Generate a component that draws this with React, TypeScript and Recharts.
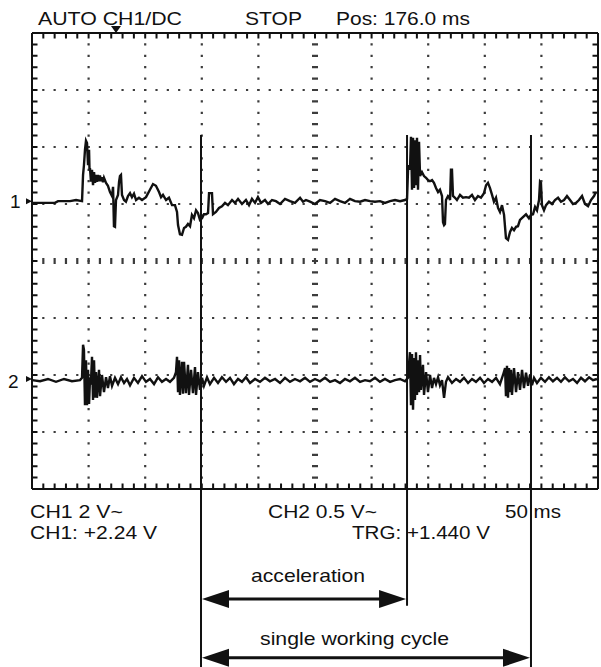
import { Line, LineChart, ReferenceDot, ReferenceLine, XAxis, YAxis } from "recharts";

// time in ms (50 ms/div), level in screen divisions (centre line = 0)
const ch1: [number, number][] = [
  [0, 1.02], [20.3, 1.02], [23, 1.05], [33.6, 1.05], [38.9, 1.07], [44.2, 1.05], [45.1, 1.51], [45.9, 1.68],
  [46.8, 1.95], [47.7, 2.11], [48.6, 2.07], [49.5, 1.68], [50.4, 1.95], [50.8, 1.6], [51.2, 1.63], [52.1, 1.39],
  [53, 1.6], [53.9, 1.33], [54.8, 1.56], [55.7, 1.37], [56.5, 1.51], [57.4, 1.39], [58.3, 1.51], [59.2, 1.4],
  [60, 1.5], [61, 1.4], [61.8, 1.47], [62.7, 1.38], [63.6, 1.46], [65.4, 1.37], [67.1, 1.32], [68.9, 1.21],
  [70.7, 1.14], [71.6, 1.3], [72.4, 0.61], [73.3, 0.6], [74.2, 1.07], [76, 1.16], [76.9, 1.39], [77.7, 1.49],
  [78.6, 1.51], [79.5, 1.16], [81.3, 1.07], [83, 1.04], [84.8, 1.14], [86.6, 1.19], [88.3, 1.12], [90.1, 1.18],
  [91.9, 1.07], [94.5, 1.11], [97.2, 1.07], [100.7, 1.12], [104.2, 1.25], [106.9, 1.35], [109.5, 1.32], [112.2, 1.21],
  [114, 1.12], [115.7, 1.16], [118.4, 1.07], [121, 1.11], [123.7, 0.98], [126.3, 0.98], [128.1, 0.86], [129, 0.63],
  [130.7, 0.47], [132.5, 0.46], [134.3, 0.58], [136, 0.6], [137.8, 0.65], [139.6, 0.61], [141.3, 0.81], [143.1, 0.75],
  [144.9, 0.89], [146.6, 0.84], [148.4, 0.72], [150.2, 0.75], [151.9, 0.82], [153.7, 0.82], [155.5, 0.84], [156.4, 1.19],
  [159, 1.19], [159.9, 0.82], [162.5, 0.86], [165.2, 0.93], [167.8, 0.96], [170.5, 1.02], [173.1, 0.98], [176.7, 1.07],
  [179.3, 1.02], [182, 1.09], [185.5, 1.0], [189, 1.07], [191.7, 0.98], [194.3, 1.09], [197, 1.02], [199.6, 1.12],
  [202.3, 1.02], [205.8, 1.07], [208.5, 1.0], [212, 1.07], [215.5, 1.05], [219.1, 1.0], [223.5, 1.09], [227.9, 1.05],
  [232.3, 1.02], [236.8, 1.11], [239.4, 1.04], [242, 1.07], [245.6, 1.04], [250, 1.0], [254.4, 1.07], [258.8, 1.05],
  [263.3, 1.02], [267.7, 1.09], [272.1, 1.05], [276.5, 1.02], [280.9, 1.09], [285.3, 1.05], [289.8, 1.04], [294.2, 1.07],
  [298.6, 1.05], [303, 1.04], [307.4, 1.05], [311.8, 1.02], [316.3, 1.05], [320.7, 1.07], [325.1, 1.05], [329.5, 1.07],
  [331.3, 1.09], [332.2, 1.6], [333, 1.68], [333.9, 1.6], [334.8, 2.18], [335.7, 1.25], [336.6, 2.16], [337.5, 1.28],
  [338.3, 2.12], [339.2, 1.33], [340.1, 2.16], [341, 1.25], [341.9, 2.09], [342.8, 1.49], [344.5, 1.56], [346.3, 1.49],
  [348.1, 1.46], [349.8, 1.42], [351.6, 1.4], [353.4, 1.42], [355.1, 1.37], [356.9, 1.28], [358.7, 1.21], [360.4, 1.25],
  [362.2, 1.14], [363.1, 0.68], [364, 0.63], [364.8, 0.65], [365.7, 1.07], [367.5, 1.14], [368.4, 1.12], [369.3, 1.07],
  [370.1, 1.6], [371, 1.6], [371.9, 1.14], [373.7, 1.11], [375.4, 1.07], [378.1, 1.16], [380.7, 1.11], [383.4, 1.12],
  [386, 1.11], [388.7, 1.16], [391.3, 1.07], [394, 1.14], [396.6, 1.11], [399.3, 1.19], [401.1, 1.33], [402.8, 1.37],
  [404.6, 1.28], [406.4, 1.16], [408.1, 1.04], [409.9, 1.11], [411.7, 0.93], [413.4, 0.86], [415.2, 0.98], [417, 0.81],
  [418.7, 0.4], [420.5, 0.37], [422.3, 0.51], [424, 0.58], [425.8, 0.54], [427.6, 0.6], [429.3, 0.61], [431.1, 0.72],
  [433.7, 0.77], [436.4, 0.82], [439, 0.75], [440.8, 0.81], [442.6, 0.82], [444.4, 0.95], [446.1, 0.89], [447.9, 1.07],
  [448.8, 1.39], [449.6, 1.37], [450.5, 0.98], [452.3, 0.89], [454.1, 0.98], [456.7, 1.04], [459.4, 1.0], [462, 1.07],
  [464.7, 1.11], [467.3, 1.04], [470, 1.07], [472.6, 1.14], [475.3, 1.07], [477.9, 1.0], [480.6, 1.02], [483.2, 1.07],
  [485.9, 1.14], [488.5, 1.0], [491.2, 0.96], [493.8, 1.07], [496.5, 1.14], [498.2, 1.21]
];

const ch2: [number, number][] = [
  [0, -2.09], [7.1, -2.11], [14.1, -2.07], [21.2, -2.12], [28.3, -2.07], [35.3, -2.11], [42.4, -2.09], [44.2, -2.05],
  [45.1, -1.47], [45.9, -1.56], [46.8, -2.53], [47.7, -1.74], [48.6, -2.53], [49.5, -1.91], [50.4, -2.51], [51.2, -2.09],
  [52.1, -2.12], [53, -1.68], [53.9, -2.44], [54.8, -1.74], [55.7, -2.4], [56.5, -1.95], [57.4, -2.4], [59.2, -1.91],
  [60.1, -2.37], [61.8, -2.0], [63.6, -2.3], [65.4, -2.04], [67.1, -2.23], [68.9, -2.02], [70.7, -2.19], [73.3, -2.05],
  [76, -2.16], [78.6, -2.04], [81.3, -2.14], [83.9, -2.07], [86.6, -2.18], [90.1, -2.05], [93.6, -2.14], [97.2, -2.02],
  [100.7, -2.12], [104.2, -2.07], [107.8, -2.16], [111.3, -2.04], [114.8, -2.12], [118.4, -2.07], [121.9, -2.12], [125.4, -2.05],
  [127.2, -1.95], [128.1, -1.68], [129, -2.3], [129.9, -1.74], [130.7, -2.35], [132.5, -1.77], [133.4, -2.33], [134.3, -1.77],
  [136, -2.32], [137.8, -1.82], [138.7, -2.35], [140.5, -1.91], [142.2, -2.32], [144, -1.86], [144.9, -2.35], [146.6, -1.95],
  [148.4, -2.26], [150.2, -2.05], [151.9, -2.19], [154.6, -2.04], [157.2, -2.16], [160.8, -2.05], [164.3, -2.14], [167.8, -2.04],
  [171.4, -2.12], [174.9, -2.05], [178.4, -2.16], [182, -2.07], [185.5, -2.12], [189, -2.04], [192.6, -2.14], [197, -2.07],
  [201.4, -2.12], [205.8, -2.05], [210.2, -2.11], [214.7, -2.07], [219.1, -2.14], [223.5, -2.05], [227.9, -2.12], [232.3, -2.07],
  [236.8, -2.11], [241.2, -2.05], [245.6, -2.12], [250, -2.07], [254.4, -2.11], [258.8, -2.05], [263.3, -2.12], [267.7, -2.09],
  [272.1, -2.14], [276.5, -2.07], [280.9, -2.11], [285.3, -2.05], [289.8, -2.12], [294.2, -2.09], [298.6, -2.11], [303, -2.05],
  [307.4, -2.12], [311.8, -2.07], [316.3, -2.12], [320.7, -2.09], [325.1, -2.07], [329.5, -2.11], [332.2, -2.05], [333, -1.82],
  [333.9, -1.6], [334.8, -2.53], [335.7, -1.63], [336.6, -2.61], [337.5, -1.7], [338.3, -2.44], [339.2, -1.6], [340.1, -2.35],
  [341, -1.74], [341.9, -2.3], [342.8, -1.65], [343.6, -2.26], [345.4, -1.82], [346.3, -2.35], [348.1, -1.95], [349.8, -2.3],
  [351.6, -2.0], [353.4, -2.23], [355.1, -2.05], [356.9, -2.16], [358.7, -2.04], [360.4, -2.18], [362.2, -2.09], [364, -2.4],
  [365.7, -2.12], [367.5, -2.04], [371, -2.14], [374.6, -2.07], [378.1, -2.12], [381.6, -2.05], [385.2, -2.14], [388.7, -2.07],
  [392.2, -2.12], [395.8, -2.05], [399.3, -2.14], [402.8, -2.07], [406.4, -2.12], [409.9, -2.05], [413.4, -2.16], [416.1, -2.0],
  [417.9, -1.88], [418.7, -2.37], [419.6, -1.84], [420.5, -2.4], [421.4, -1.88], [422.3, -2.3], [423.1, -1.91], [424, -2.35],
  [425.8, -1.88], [427.6, -2.3], [429.3, -1.95], [431.1, -2.26], [432.9, -1.91], [434.6, -2.23], [436.4, -1.96], [438.2, -2.19],
  [439.9, -2.0], [441.7, -2.18], [443.5, -2.05], [446.1, -2.14], [449.6, -2.05], [453.2, -2.12], [456.7, -2.04], [460.2, -2.11],
  [463.8, -2.05], [467.3, -2.12], [470.8, -2.04], [474.4, -2.11], [477.9, -2.07], [481.5, -2.14], [485, -2.05], [488.5, -2.11],
  [492.1, -2.04], [495.6, -2.09], [499.1, -2.07]
];

const timeDivs = [0, 50, 100, 150, 200, 250, 300, 350, 400, 450, 500];
const levelDivs = [-4, -3, -2, -1, 0, 1, 2, 3, 4];
const channelOffsets = [1.05, -2.07];

const triggerMs = 74.2;
const cycleStartMs = 149.3;
const accelEndMs = 331.3;
const cycleEndMs = 440.8;
const cursorTop = 2.21;
const accelArrowLevel = -5.93;
const cycleArrowLevel = -6.96;

const INK = "#111";
const DOTS = "#3c3c3c";
const FONT = "'Liberation Sans', Arial, sans-serif";

const ch1Data = ch1.map(([t, v]) => ({ t, v }));
const ch2Data = ch2.map(([t, v]) => ({ t, v }));

function ArrowShape(props: any) {
  const { x1, y1, x2 } = props;
  const left = Math.min(x1, x2);
  const right = Math.max(x1, x2);
  const y = y1;
  const head = 28;
  const half = 9;
  return (
    <g>
      <line x1={left + head - 2} y1={y} x2={right - head + 2} y2={y} stroke={INK} strokeWidth={3} />
      <polygon points={`${left + 1},${y} ${left + head},${y - half} ${left + head},${y + half}`} fill={INK} />
      <polygon points={`${right - 1},${y} ${right - head},${y - half} ${right - head},${y + half}`} fill={INK} />
    </g>
  );
}

// frame sub-division ticks, pushed inward from the border line
const tickShape = (dx: number, dy: number, dash: string) => (props: any) => {
  const { x1, y1, x2, y2 } = props;
  return (
    <line
      x1={x1 + dx}
      y1={y1 + dy}
      x2={x2 + dx}
      y2={y2 + dy}
      stroke={INK}
      strokeWidth={5}
      strokeDasharray={dash}
      strokeDashoffset={1}
    />
  );
};

function TriggerShape(props: any) {
  const { cx, cy } = props;
  return <polygon points={`${cx - 5},${cy - 7} ${cx + 5},${cy - 7} ${cx},${cy}`} fill={INK} />;
}

function GroundShape(props: any) {
  const { cx, cy } = props;
  return <polygon points={`${cx - 6},${cy - 3} ${cx},${cy} ${cx - 6},${cy + 3}`} fill={INK} />;
}

const textStyle = { fontFamily: FONT, fontSize: 19, fill: "#111" };

export default function App() {
  const inner = timeDivs.slice(1, -1).filter((t) => t !== 250);
  const innerLevels = levelDivs.slice(1, -1).filter((v) => v !== 0);

  return (
    <div style={{ position: "absolute", left: 0, top: 0, width: 601, height: 667, background: "#fff" }}>
      <LineChart width={601} height={667} margin={{ top: 33, right: 3, bottom: 178, left: 32 }}>
        <XAxis type="number" dataKey="t" domain={[0, 500]} allowDataOverflow hide />
        <YAxis type="number" domain={[-4, 4]} allowDataOverflow hide />

        {inner.map((t) => (
          <ReferenceLine key={`gx${t}`} x={t} stroke={DOTS} strokeWidth={2.2} strokeDasharray="2.2 9.2" strokeDashoffset={1.1} />
        ))}
        {innerLevels.map((v) => (
          <ReferenceLine key={`gy${v}`} y={v} stroke={DOTS} strokeWidth={2.2} strokeDasharray="2.2 9.12" strokeDashoffset={1.1} />
        ))}
        <ReferenceLine x={250} stroke={DOTS} strokeWidth={6} strokeDasharray="2.2 9.2" strokeDashoffset={1.1} />
        <ReferenceLine y={0} stroke={DOTS} strokeWidth={6} strokeDasharray="2.2 9.12" strokeDashoffset={1.1} />

        <ReferenceLine x={0} ifOverflow="visible" shape={tickShape(3, 0, "2 9.4")} />
        <ReferenceLine x={500} ifOverflow="visible" shape={tickShape(-3, 0, "2 9.4")} />
        <ReferenceLine y={4} ifOverflow="visible" shape={tickShape(0, 3, "2 9.32")} />
        <ReferenceLine y={-4} ifOverflow="visible" shape={tickShape(0, -3, "2 9.32")} />
        {[0, 500].map((t) => (
          <ReferenceLine key={`fx${t}`} x={t} stroke={INK} strokeWidth={2} ifOverflow="visible" />
        ))}
        {[-4, 4].map((v) => (
          <ReferenceLine key={`fy${v}`} y={v} stroke={INK} strokeWidth={2} ifOverflow="visible" />
        ))}

        <Line data={ch1Data} dataKey="v" type="linear" stroke={INK} strokeWidth={2.4} dot={false} activeDot={false} isAnimationActive={false} />
        <Line data={ch2Data} dataKey="v" type="linear" stroke={INK} strokeWidth={2.4} dot={false} activeDot={false} isAnimationActive={false} />

        <ReferenceLine segment={[{ x: cycleStartMs, y: cursorTop }, { x: cycleStartMs, y: -7.3 }]} stroke={INK} strokeWidth={2} ifOverflow="visible" />
        <ReferenceLine segment={[{ x: accelEndMs, y: cursorTop }, { x: accelEndMs, y: -6.05 }]} stroke={INK} strokeWidth={2} ifOverflow="visible" />
        <ReferenceLine segment={[{ x: cycleEndMs, y: cursorTop }, { x: cycleEndMs, y: -7.3 }]} stroke={INK} strokeWidth={2} ifOverflow="visible" />

        <ReferenceLine
          segment={[{ x: cycleStartMs, y: accelArrowLevel }, { x: accelEndMs, y: accelArrowLevel }]}
          ifOverflow="visible"
          shape={ArrowShape}
        />
        <ReferenceLine
          segment={[{ x: cycleStartMs, y: cycleArrowLevel }, { x: cycleEndMs, y: cycleArrowLevel }]}
          ifOverflow="visible"
          shape={ArrowShape}
        />

        <ReferenceDot x={triggerMs} y={4} ifOverflow="visible" shape={TriggerShape} />
        {channelOffsets.map((v) => (
          <ReferenceDot key={`g${v}`} x={0} y={v} ifOverflow="visible" shape={GroundShape} />
        ))}
      </LineChart>

      <svg width={601} height={667} style={{ position: "absolute", left: 0, top: 0, pointerEvents: "none" }}>
        <text x={38} y={25} {...textStyle} textLength={144} lengthAdjust="spacingAndGlyphs">AUTO CH1/DC</text>
        <text x={245} y={25} {...textStyle} textLength={57} lengthAdjust="spacingAndGlyphs">STOP</text>
        <text x={336} y={25} {...textStyle} textLength={134} lengthAdjust="spacingAndGlyphs">Pos: 176.0 ms</text>

        <text x={10} y={208} {...textStyle}>1</text>
        <text x={8} y={388} {...textStyle}>2</text>

        <text x={30} y={518} {...textStyle} textLength={93} lengthAdjust="spacingAndGlyphs">CH1 2 V~</text>
        <text x={268} y={518} {...textStyle} textLength={109} lengthAdjust="spacingAndGlyphs">CH2 0.5 V~</text>
        <text x={505} y={518} {...textStyle} textLength={56} lengthAdjust="spacingAndGlyphs">50 ms</text>
        <text x={30} y={539} {...textStyle} textLength={127} lengthAdjust="spacingAndGlyphs">CH1: +2.24 V</text>
        <text x={352} y={539} {...textStyle} textLength={138} lengthAdjust="spacingAndGlyphs">TRG: +1.440 V</text>

        <text x={251} y={582} {...textStyle} textLength={114} lengthAdjust="spacingAndGlyphs">acceleration</text>
        <text x={260} y={645} {...textStyle} textLength={189} lengthAdjust="spacingAndGlyphs">single working cycle</text>
      </svg>
    </div>
  );
}
